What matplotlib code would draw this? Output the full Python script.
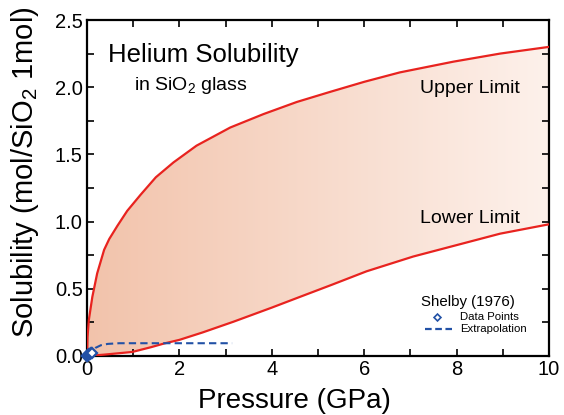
import numpy as np
import matplotlib
matplotlib.use("Agg")
import matplotlib.pyplot as plt
from matplotlib.ticker import MultipleLocator
from matplotlib.colors import LinearSegmentedColormap

plt.rcParams['font.family'] = ['Liberation Sans', 'DejaVu Sans']
plt.rcParams['mathtext.fontset'] = 'custom'
plt.rcParams['mathtext.rm'] = 'Liberation Sans'
plt.rcParams['mathtext.default'] = 'regular'

# upper / lower solubility limits (GPa, mol/SiO2 1mol)
upper_p = [0, 0.01, 0.04, 0.115, 0.22, 0.37, 0.48, 0.66, 0.87, 1.16, 1.49, 1.87, 2.37,
           3.10, 3.82, 4.54, 5.26, 6.0, 6.77, 7.93, 8.94, 10.0]
upper_s = [0, 0.14, 0.27, 0.44, 0.615, 0.79, 0.87, 0.97, 1.08, 1.20, 1.33, 1.44, 1.565,
           1.70, 1.80, 1.89, 1.965, 2.04, 2.11, 2.19, 2.25, 2.30]
lower_p = [0, 0.37, 0.98, 1.38, 1.67, 2.0, 2.5, 3.17, 4.0, 4.61, 5.3, 6.05, 7.06, 8.0, 8.94, 10.0]
lower_s = [0, 0.01, 0.03, 0.065, 0.093, 0.12, 0.175, 0.255, 0.36, 0.44, 0.53, 0.63, 0.74, 0.825, 0.91, 0.98]

# Shelby (1976)
shelby_p = [0.0, 0.01, 0.02, 0.03, 0.05, 0.07, 0.09, 0.115]
shelby_s = [0.0, 0.003, 0.006, 0.01, 0.013, 0.017, 0.02, 0.025]
extrap_p = [0.0, 0.08, 0.18, 0.3, 0.45, 0.7, 1.0, 2.0, 3.14]
extrap_s = [0.0, 0.03, 0.06, 0.08, 0.09, 0.095, 0.095, 0.095, 0.095]

RED = '#e8231f'
BLUE = '#2251a6'

fig = plt.figure(figsize=(5.64, 4.15), dpi=100)
ax = fig.add_axes([0.1543, 0.1422, 0.8191, 0.8096])

# shaded region between limits with a left-to-right fade
cmap = LinearSegmentedColormap.from_list('fade', ['#f2c3ab', '#fdf1eb'])
grad = np.linspace(0, 1, 256).reshape(1, -1)
im = ax.imshow(grad, cmap=cmap, aspect='auto', extent=[0, 10, 0, 2.5], zorder=1)
grid_p = np.union1d(upper_p, lower_p)
up = np.interp(grid_p, upper_p, upper_s)
lo = np.interp(grid_p, lower_p, lower_s)
poly = ax.fill_between(grid_p, lo, up, facecolor='none', edgecolor='none')
im.set_clip_path(poly.get_paths()[0], transform=ax.transData)

ax.plot(upper_p, upper_s, color=RED, lw=1.6, zorder=3, solid_joinstyle='round')
ax.plot(lower_p, lower_s, color=RED, lw=1.6, zorder=3, solid_joinstyle='round')
ax.plot(extrap_p, extrap_s, color=BLUE, lw=1.5, ls=(0, (3.5, 2)), zorder=4)
ax.plot(shelby_p, shelby_s, ls='none', marker='D', ms=5, mfc='white', mec=BLUE, mew=1.6,
        zorder=5, clip_on=False)

ax.set_xlim(0, 10)
ax.set_ylim(0, 2.5)
ax.xaxis.set_major_locator(MultipleLocator(2))
ax.xaxis.set_minor_locator(MultipleLocator(1))
ax.yaxis.set_major_locator(MultipleLocator(0.5))
ax.yaxis.set_minor_locator(MultipleLocator(0.25))
ax.yaxis.set_major_formatter(plt.FuncFormatter(lambda v, _: f"{v:.1f}"))
ax.tick_params(which='both', direction='in', top=True, right=True, width=1.2, labelsize=14.5)
ax.tick_params(which='major', length=5, pad=3)
ax.tick_params(which='minor', length=5)
for s in ax.spines.values():
    s.set_linewidth(1.6)

ax.set_xlabel('Pressure (GPa)', fontsize=20)
ax.set_ylabel('Solubility (mol/SiO$_2$ 1mol)', fontsize=21)
ax.xaxis.set_label_coords(0.449, -0.095)
ax.yaxis.set_label_coords(-0.10, 0.548)

ax.text(0.455, 2.19, 'Helium Solubility', fontsize=18.5, va='baseline', zorder=6)
ax.text(1.02, 1.98, 'in SiO$_2$ glass', fontsize=14, va='baseline', zorder=6)
ax.text(7.21, 1.955, 'Upper Limit', fontsize=14, va='baseline', zorder=6)
ax.text(7.21, 0.99, 'Lower Limit', fontsize=14, va='baseline', zorder=6)

# legend block
ax.text(7.23, 0.37, 'Shelby (1976)', fontsize=10.8, va='baseline')
ax.plot([7.58], [0.292], ls='none', marker='D', ms=3.5, mfc='white', mec=BLUE, mew=1.2)
ax.text(8.07, 0.292, 'Data Points', fontsize=8.2, va='center')
ax.plot([7.32, 7.9], [0.198, 0.198], color=BLUE, lw=1.6, ls=(0, (3, 1.6)))
ax.text(8.07, 0.198, 'Extrapolation', fontsize=8.2, va='center')

fig.savefig('out.png', dpi=100)
